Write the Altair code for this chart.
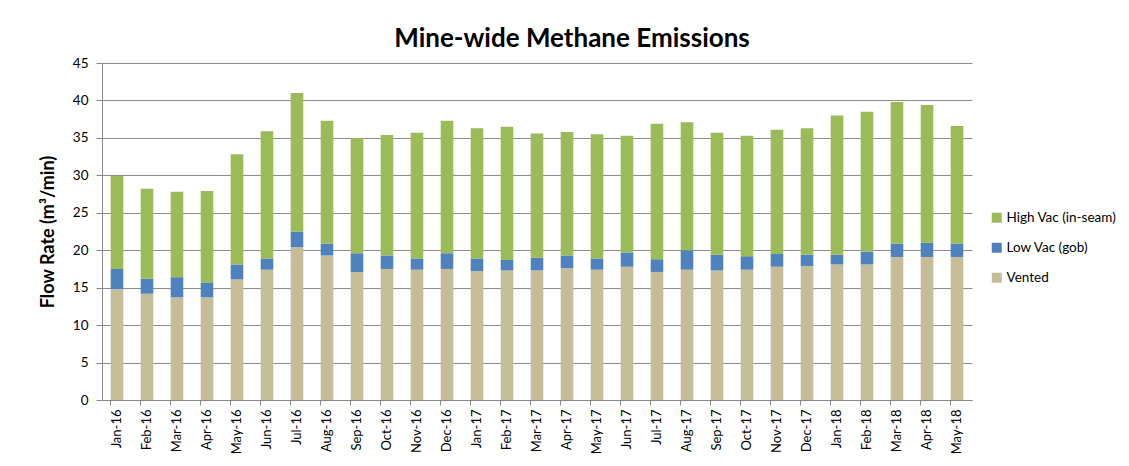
import altair as alt
import pandas as pd

months = ["Jan-16", "Feb-16", "Mar-16", "Apr-16", "May-16", "Jun-16", "Jul-16", "Aug-16",
          "Sep-16", "Oct-16", "Nov-16", "Dec-16", "Jan-17", "Feb-17", "Mar-17", "Apr-17",
          "May-17", "Jun-17", "Jul-17", "Aug-17", "Sep-17", "Oct-17", "Nov-17", "Dec-17",
          "Jan-18", "Feb-18", "Mar-18", "Apr-18", "May-18"]

vented = [14.8, 14.2, 13.7, 13.7, 16.1, 17.4, 20.4, 19.3,
          17.1, 17.5, 17.4, 17.5, 17.2, 17.3, 17.3, 17.6,
          17.4, 17.8, 17.1, 17.4, 17.3, 17.4, 17.8, 17.9,
          18.1, 18.1, 19.1, 19.1, 19.1]
low_vac = [2.7, 2.0, 2.7, 2.0, 2.0, 1.5, 2.1, 1.6,
           2.5, 1.8, 1.5, 2.1, 1.7, 1.4, 1.7, 1.7,
           1.5, 1.9, 1.7, 2.6, 2.1, 1.8, 1.7, 1.5,
           1.3, 1.7, 1.8, 1.9, 1.8]
high_vac = [12.4, 12.0, 11.4, 12.2, 14.7, 17.0, 18.5, 16.4,
            15.4, 16.1, 16.8, 17.7, 17.4, 17.8, 16.6, 16.5,
            16.6, 15.6, 18.1, 17.1, 16.3, 16.1, 16.6, 16.9,
            18.6, 18.7, 18.9, 18.4, 15.7]

series = ["High Vac (in-seam)", "Low Vac (gob)", "Vented"]
colors = ["#9BBB59", "#4F81BD", "#C4BD97"]

rows = []
for i, m in enumerate(months):
    rows.append({"month": m, "series": "Vented", "value": vented[i], "ord": 0})
    rows.append({"month": m, "series": "Low Vac (gob)", "value": low_vac[i], "ord": 1})
    rows.append({"month": m, "series": "High Vac (in-seam)", "value": high_vac[i], "ord": 2})
df = pd.DataFrame(rows)

font = "Lato"

chart = alt.Chart(df).mark_bar().encode(
    x=alt.X("month:N", sort=months, title=None,
            scale=alt.Scale(paddingInner=0.58, paddingOuter=0.29),
            axis=alt.Axis(labelAngle=-90, bandPosition=0, labelFontSize=13, labelColor="#000",
                          labelFont=font, domainColor="#888", tickColor="#888", tickSize=5,
                          labelPadding=4, grid=False)),
    y=alt.Y("value:Q", stack="zero", title="Flow Rate (m³/min)",
            scale=alt.Scale(domain=[0, 45]),
            axis=alt.Axis(values=list(range(0, 46, 5)), labelFontSize=13.5, labelColor="#000",
                          labelFont=font, titleFont=font, titleFontSize=18, titleFontWeight="bold",
                          titleColor="#000", domainColor="#888", tickColor="#888", tickSize=6,
                          gridColor="#8c8c8c", gridWidth=1, titlePadding=15, labelPadding=8)),
    color=alt.Color("series:N", scale=alt.Scale(domain=series, range=colors),
                    legend=alt.Legend(title=None, orient="none", legendX=888, legendY=148,
                                      symbolType="square", symbolSize=100, labelFontSize=13.5,
                                      labelFont=font, labelColor="#000", rowPadding=15,
                                      symbolStrokeWidth=0, labelOffset=3)),
    order=alt.Order("ord:Q", sort="ascending"),
).properties(
    width=870,
    height=337,
    title=alt.TitleParams("Mine-wide Methane Emissions", font=font, fontSize=26,
                          fontWeight="bold", color="#000", anchor="middle", offset=4, dx=35),
    autosize=alt.AutoSizeParams(type="none"),
    padding={"left": 94, "top": 55, "right": 149, "bottom": 58},
).configure_view(stroke=None)

chart.save("out.html", embed_options={"renderer": "svg", "actions": False})
